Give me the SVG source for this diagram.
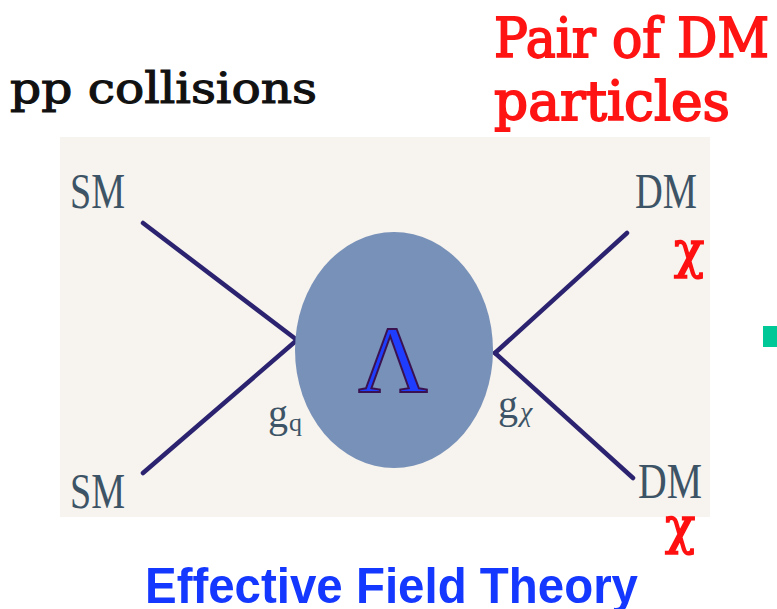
<svg xmlns="http://www.w3.org/2000/svg" width="777" height="609" viewBox="0 0 777 609">
<style>
.title{font-family:"DejaVu Serif","Liberation Serif",serif;stroke-width:1.1;}
.red{fill:#ff1414;stroke:#ff1414;stroke-width:1.8;}
.lbl{font-family:"Liberation Serif","DejaVu Serif",serif;fill:#3d5466;}
.chi{font-family:"DejaVu Serif","Liberation Serif",serif;fill:#ff1010;stroke:#ff1010;stroke-width:1.5;}
.leg{stroke:#2b2370;stroke-width:4.5;stroke-linecap:round;fill:none;}
</style>
<rect width="777" height="609" fill="#ffffff"/>
<g id="background"><rect x="60" y="137" width="650" height="380" fill="#f7f3ee"/></g>
<g id="green-mark"><rect x="763" y="326" width="14" height="21" fill="#00c896"/></g>
<g id="pp-collisions"><text class="title" x="10" y="103" font-size="42" textLength="307" lengthAdjust="spacingAndGlyphs" fill="#111" stroke="#111">pp collisions</text></g>
<g id="dm-pair"><text class="title red" x="494" y="57" font-size="55" textLength="275" lengthAdjust="spacingAndGlyphs">Pair of DM</text>
<text class="title red" x="494" y="120" font-size="55" textLength="236" lengthAdjust="spacingAndGlyphs">particles</text></g>
<g id="connectors">
<line class="leg" x1="143" y1="223" x2="297" y2="340"/>
<line class="leg" x1="143" y1="473" x2="297" y2="340"/>
<line class="leg" x1="627" y1="233" x2="495" y2="353"/>
<line class="leg" x1="633" y1="478" x2="495" y2="353"/>
</g>
<g id="blob"><ellipse cx="394" cy="350" rx="99" ry="118" fill="#7891b8"/>
<text x="393" y="392" font-family="Liberation Serif, serif" font-size="96" text-anchor="middle" fill="#1f3dff" stroke="#3a1250" stroke-width="2">Λ</text></g>
<g id="sm-top"><text class="lbl" x="70" y="208" font-size="50" textLength="55" lengthAdjust="spacingAndGlyphs">SM</text></g>
<g id="sm-bottom"><text class="lbl" x="70" y="508" font-size="50" textLength="55" lengthAdjust="spacingAndGlyphs">SM</text></g>
<g id="dm-top"><text class="lbl" x="635" y="208" font-size="50" textLength="62" lengthAdjust="spacingAndGlyphs">DM</text>
<text class="chi" x="674" y="267" font-size="50">χ</text></g>
<g id="dm-bottom"><text class="lbl" x="638" y="498" font-size="50" textLength="64" lengthAdjust="spacingAndGlyphs">DM</text>
<text class="chi" x="665" y="543" font-size="50">χ</text></g>
<g id="gq"><text class="lbl" x="268" y="427" font-size="40">g</text><text class="lbl" x="289" y="431" font-size="26">q</text></g>
<g id="gchi"><text class="lbl" x="498" y="418" font-size="40">g</text><text class="lbl" x="520" y="421" font-size="28" font-style="italic">χ</text></g>
<g id="eft"><text x="145" y="603" font-family="Liberation Sans, Arial, sans-serif" font-weight="bold" font-size="50" textLength="493" lengthAdjust="spacingAndGlyphs" fill="#1438ff">Effective Field Theory</text></g>
</svg>
